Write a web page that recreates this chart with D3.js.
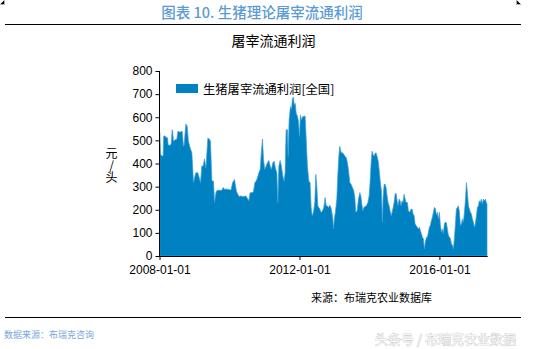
<!DOCTYPE html>
<html>
<head>
<meta charset="utf-8">
<script src="https://cdn.jsdelivr.net/npm/d3@7/dist/d3.min.js"></script>
<style>
  html, body { margin: 0; padding: 0; background: #ffffff; }
  svg { display: block; }
</style>
</head>
<body>
<svg id="chart" width="560" height="349"></svg>
<script>
// 生猪理论屠宰流通利润（全国），元/头
const dates = [
  "2008-01-03","2008-01-13","2008-01-29","2008-02-08","2008-02-13","2008-02-19","2008-03-11","2008-03-26","2008-03-31",
  "2008-04-21","2008-05-02","2008-05-12","2008-05-17","2008-05-26","2008-06-12","2008-06-30","2008-07-11","2008-08-04",
  "2008-08-25","2008-09-07","2008-09-14","2008-10-02","2008-10-16","2008-10-29","2008-11-16","2008-12-04","2008-12-21",
  "2009-01-01","2009-01-14","2009-02-04","2009-02-18","2009-03-04","2009-03-18","2009-04-01","2009-04-14","2009-04-29",
  "2009-05-20","2009-06-06","2009-06-16","2009-07-01","2009-07-18","2009-07-28","2009-08-12","2009-08-25","2009-10-13",
  "2009-10-27","2009-11-09","2009-12-15","2009-12-28","2010-01-18","2010-02-01","2010-02-22","2010-03-14","2010-03-28",
  "2010-04-11","2010-04-29","2010-05-13","2010-06-10","2010-06-18","2010-07-07","2010-07-21","2010-08-04","2010-08-25",
  "2010-09-08","2010-09-22","2010-10-06","2010-10-20","2010-11-03","2010-11-17","2010-12-01","2010-12-11","2010-12-22",
  "2011-01-04","2011-01-18","2011-02-01","2011-02-15","2011-03-01","2011-03-14","2011-03-29","2011-04-12","2011-04-25",
  "2011-05-10","2011-05-20","2011-05-31","2011-06-13","2011-06-27","2011-07-11","2011-07-25","2011-08-04","2011-08-15",
  "2011-08-29","2011-09-05","2011-09-15","2011-09-29","2011-10-10","2011-10-20","2011-10-31","2011-11-07","2011-11-18",
  "2011-11-28","2011-12-12","2011-12-22","2012-01-01","2012-01-11","2012-01-22","2012-02-05","2012-02-19","2012-02-29",
  "2012-03-11","2012-03-24","2012-04-08","2012-04-21","2012-05-02","2012-05-13","2012-05-26","2012-06-09","2012-06-20",
  "2012-06-30","2012-07-11","2012-07-21","2012-08-01","2012-08-11","2012-08-25","2012-09-11","2012-09-25","2012-10-06",
  "2012-10-16","2012-10-30","2012-11-13","2012-11-24","2012-12-04","2012-12-15","2012-12-21","2013-01-01","2013-01-10",
  "2013-01-25","2013-02-04","2013-02-15","2013-02-25","2013-03-08","2013-03-18","2013-03-28","2013-04-08","2013-04-21",
  "2013-05-05","2013-05-16","2013-05-26","2013-06-10","2013-06-23","2013-07-07","2013-07-21","2013-08-01","2013-08-11",
  "2013-08-25","2013-09-08","2013-09-22","2013-10-03","2013-10-13","2013-10-24","2013-11-03","2013-11-16","2013-11-30",
  "2013-12-15","2013-12-28","2014-01-07","2014-01-18","2014-01-28","2014-02-08","2014-02-18","2014-03-01","2014-03-11",
  "2014-03-21","2014-04-04","2014-04-15","2014-04-25","2014-05-06","2014-05-16","2014-05-23","2014-06-03","2014-06-13",
  "2014-06-23","2014-07-04","2014-07-14","2014-07-25","2014-08-04","2014-08-15","2014-08-25","2014-09-05","2014-09-15",
  "2014-09-25","2014-10-06","2014-10-16","2014-10-27","2014-11-06","2014-11-16","2014-11-27","2014-12-07","2014-12-18",
  "2014-12-28","2015-01-08","2015-01-18","2015-02-01","2015-02-11","2015-02-26","2015-03-08","2015-03-22","2015-04-01",
  "2015-04-12","2015-04-22","2015-05-02","2015-05-16","2015-05-26","2015-06-06","2015-06-16","2015-06-27","2015-07-07",
  "2015-07-18","2015-07-28","2015-08-07","2015-08-18","2015-08-28","2015-09-08","2015-09-18","2015-09-28","2015-10-09",
  "2015-10-19","2015-10-30","2015-11-09","2015-11-19","2015-11-30","2015-12-10","2015-12-21","2016-01-01","2016-01-11",
  "2016-01-22","2016-02-01","2016-02-11","2016-02-22","2016-03-03","2016-03-14","2016-03-24","2016-04-04","2016-04-14",
  "2016-04-25","2016-05-05","2016-05-16","2016-05-26","2016-06-05","2016-06-16","2016-06-26","2016-07-07","2016-07-17",
  "2016-07-28","2016-08-07","2016-08-18","2016-08-28","2016-09-07","2016-09-18","2016-09-28","2016-10-09","2016-10-19",
  "2016-10-30","2016-11-09","2016-11-19","2016-11-30","2016-12-10","2016-12-21","2017-01-01","2017-01-10","2017-01-21",
  "2017-01-31","2017-02-11","2017-02-21","2017-03-03","2017-03-14","2017-03-24","2017-04-04","2017-04-14","2017-04-25",
  "2017-05-05","2017-05-12"
];
const profit = [
  535,440,431,435,517,520,514,510,481,
  478,485,546,540,496,503,505,539,535,
  540,474,480,571,560,496,467,446,317,
  339,360,360,339,317,389,389,420,381,
  510,505,496,324,324,231,274,284,284,
  296,289,289,286,286,317,331,280,267,
  257,260,257,257,261,249,239,274,274,
  278,317,324,339,360,374,460,506,417,
  374,389,403,413,389,374,403,410,381,
  360,231,389,413,389,346,324,360,546,
  546,431,589,646,635,681,686,654,660,
  617,603,581,517,610,589,603,603,606,
  510,389,324,317,210,174,189,231,353,
  303,217,210,203,189,192,210,253,217,
  217,210,220,210,189,160,117,167,189,
  246,346,431,474,453,444,446,439,431,
  424,403,374,317,310,296,282,253,189,
  196,246,274,260,224,196,210,214,217,
  231,260,317,403,453,439,431,444,446,
  431,406,360,317,281,146,253,310,310,
  296,260,231,217,196,174,189,210,231,
  267,271,239,217,246,239,217,239,231,
  267,246,231,231,196,189,201,203,182,
  174,139,132,124,117,124,110,96,81,
  75,31,60,81,81,103,124,132,153,
  167,189,210,206,178,189,160,189,132,
  103,117,96,139,146,144,117,89,82,
  75,53,46,31,75,139,203,210,217,
  189,132,139,160,146,189,239,317,274,
  217,203,189,182,160,146,124,139,174,
  210,217,239,231,246,224,246,239,246,
  231,224
];
const seriesName = "生猪屠宰流通利润[全国]";
const yTicks = [0, 100, 200, 300, 400, 500, 600, 700, 800];
const xTickDates = ["2008-01-01", "2012-01-01", "2016-01-01"];
const xDomain = ["2008-01-01", "2017-05-19"];

const parse = d3.timeParse("%Y-%m-%d");
const fmt = d3.timeFormat("%Y-%m-%d");
const rows = dates.map((d, i) => ({ date: parse(d), value: profit[i] }));

const svg = d3.select("#chart");
const cjk = "'Noto Sans CJK SC', 'Noto Sans', sans-serif";
const latin = "'Liberation Sans', Arial, sans-serif";
const blue = "#0081c2";

// crop marks at the top corners
const marks = svg.append("g").attr("stroke", "#b0b0b0").attr("stroke-width", 1);
marks.append("path").attr("d", "M4.5,0V4.5H0");
marks.append("path").attr("d", "M516.5,0V4.5H521");

// page heading and rules
svg.append("text")
  .attr("x", 262).attr("y", 18)
  .attr("text-anchor", "middle")
  .attr("font-family", cjk).attr("font-size", 14.5)
  .attr("font-weight", 500)
  .attr("fill", "#5b9bd5")
  .text("图表 10. 生猪理论屠宰流通利润");
svg.append("line").attr("x1", 5).attr("x2", 521).attr("y1", 24.5).attr("y2", 24.5)
  .attr("stroke", "#000").attr("stroke-width", 1);

svg.append("text")
  .attr("x", 273.5).attr("y", 45.5)
  .attr("text-anchor", "middle")
  .attr("font-family", cjk).attr("font-size", 14)
  .attr("fill", "#000")
  .text("屠宰流通利润");

// scales
const x = d3.scaleTime().domain(xDomain.map(parse)).range([159.5, 487.7]);
const y = d3.scaleLinear().domain([0, 800]).range([256, 71]);

// area
const area = d3.area()
  .x(d => x(d.date))
  .y0(y(0))
  .y1(d => y(d.value))
  .curve(d3.curveLinear);
svg.append("path")
  .datum(rows)
  .attr("d", area)
  .attr("fill", blue)
  .attr("stroke", "#3f9fd3")
  .attr("stroke-width", 0.7)
  .attr("stroke-linejoin", "round");

// axes
const yAxis = d3.axisLeft(y).tickValues(yTicks).tickSize(4).tickPadding(3).tickFormat(d3.format("d"));
const gy = svg.append("g").attr("transform", "translate(159.5,0)").call(yAxis);
const xAxis = d3.axisBottom(x).tickValues(xTickDates.map(parse)).tickSize(4).tickPadding(5).tickFormat(fmt);
const gx = svg.append("g").attr("transform", "translate(0,256)").call(xAxis);
[gx, gy].forEach(g => {
  g.select(".domain").attr("stroke", "#000").attr("stroke-width", 1);
  g.selectAll(".tick line").attr("stroke", "#000");
  g.selectAll(".tick text").attr("fill", "#000")
    .attr("font-family", latin).attr("font-size", 12);
});
gx.select(".domain").attr("d", "M159.5,0.5H487.7");
gy.select(".domain").attr("d", "M0,71V256.5");

// y-axis unit, written top to bottom
svg.append("text")
  .attr("x", 111.5).attr("y", 147)
  .attr("font-family", cjk).attr("font-size", 12)
  .attr("fill", "#000")
  .style("writing-mode", "vertical-rl")
  .style("text-orientation", "upright")
  .text("元/头");

// legend
svg.append("rect").attr("x", 176).attr("y", 84).attr("width", 22).attr("height", 9).attr("fill", blue);
svg.append("text")
  .attr("x", 203).attr("y", 93.5)
  .attr("font-family", cjk).attr("font-size", 12.3)
  .attr("fill", "#000")
  .text(seriesName);

// source note and footer
svg.append("text")
  .attr("x", 311).attr("y", 302)
  .attr("font-family", cjk).attr("font-size", 11)
  .attr("fill", "#000")
  .text("来源：布瑞克农业数据库");
svg.append("line").attr("x1", 5).attr("x2", 521).attr("y1", 317.5).attr("y2", 317.5)
  .attr("stroke", "#000").attr("stroke-width", 1);
svg.append("text")
  .attr("x", 4).attr("y", 338)
  .attr("font-family", cjk).attr("font-size", 9)
  .attr("fill", "#7aa6dc")
  .text("数据来源：布瑞克咨询");
svg.append("text")
  .attr("x", 516).attr("y", 344)
  .attr("text-anchor", "end")
  .attr("font-family", cjk).attr("font-size", 13)
  .attr("fill", "#f7f7f7")
  .attr("stroke", "#b8b8b8").attr("stroke-width", 0.6)
  .attr("paint-order", "stroke")
  .text("头条号 / 布瑞克农业数据");
</script>
</body>
</html>
